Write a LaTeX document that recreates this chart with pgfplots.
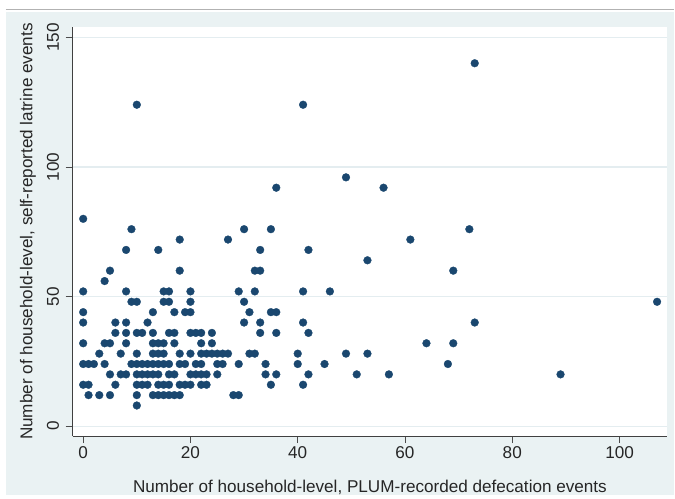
\documentclass[border=0pt]{standalone}
\usepackage{fontspec}
\setmainfont{Liberation Sans}
\usepackage{pgfplots}
\pgfplotsset{compat=1.18}
\definecolor{stbg}{RGB}{234,242,243}
\definecolor{stnavy}{RGB}{26,71,111}
\definecolor{stgrid}{RGB}{228,237,240}
\newcommand\lbl{\fontsize{17.2}{19}\selectfont}

\begin{document}
\begin{tikzpicture}[x=1bp,y=1bp]
% page and graph region
\fill[white] (0,0) rectangle (675,496);
\fill[stbg] (6,0) rectangle (675,484);
\draw[black!30, line width=1.5bp] (6,486.5) -- (675,486.5);
\begin{axis}[
  at={(72.7bp,59.3bp)}, anchor=south west,
  scale only axis, width=595.3bp, height=409.7bp,
  xmin=-1.97, xmax=108.9, ymin=-3.85, ymax=154,
  axis x line*=bottom, axis y line*=left,
  axis line style={black!75, line width=0.8bp},
  axis background/.style={fill=white},
  xtick={0,20,...,100}, ytick={0,50,100,150},
  tick align=outside, major tick length=7bp,
  tick style={black!70, line width=0.8bp},
  ymajorgrids, grid style={stgrid, line width=1.2bp},
  /pgf/number format/assume math mode=true,
  tick label style={font=\lbl, text=black!85},
  yticklabel style={rotate=90, anchor=south},
  yticklabel shift=3bp,
  xlabel={Number of household-level, PLUM-recorded defecation events},
  ylabel={Number of household-level, self-reported latrine events},
  label style={font=\lbl, text=black!85},
  xlabel style={at={(axis description cs:0.5,-0.1252)}, anchor=center},
  ylabel style={at={(axis description cs:-0.0751,0.5)}, anchor=center},
  clip=false,
]
\addplot[only marks, mark=*, mark size=3.9bp,
  mark options={fill=stnavy, draw=stnavy, line width=0.3bp}] table {
X Y
10 8
1 12
3 12
5 12
10 12
13 12
14 12
15 12
16 12
17 12
18 12
28 12
29 12
0 16
1 16
6 16
10 16
11 16
12 16
14 16
15 16
16 16
18 16
19 16
20 16
22 16
23 16
35 16
41 16
5 20
7 20
8 20
10 20
11 20
12 20
13 20
14 20
16 20
17 20
20 20
21 20
22 20
23 20
25 20
34 20
36 20
42 20
51 20
57 20
89 20
0 24
1 24
2 24
4 24
9 24
10 24
11 24
12 24
13 24
14 24
15 24
16 24
18 24
19 24
21 24
22 24
25 24
26 24
29 24
34 24
40 24
45 24
68 24
3 28
7 28
10 28
13 28
14 28
15 28
18 28
20 28
22 28
23 28
24 28
25 28
26 28
27 28
31 28
32 28
40 28
49 28
53 28
0 32
4 32
5 32
8 32
13 32
14 32
15 32
17 32
22 32
24 32
64 32
69 32
6 36
8 36
10 36
11 36
13 36
16 36
17 36
20 36
21 36
22 36
24 36
33 36
36 36
42 36
0 40
6 40
8 40
12 40
30 40
33 40
41 40
73 40
0 44
13 44
17 44
19 44
20 44
31 44
35 44
36 44
9 48
10 48
15 48
16 48
20 48
30 48
107 48
0 52
8 52
15 52
16 52
20 52
29 52
32 52
41 52
46 52
4 56
5 60
18 60
32 60
33 60
69 60
53 64
8 68
14 68
33 68
42 68
18 72
27 72
61 72
9 76
30 76
35 76
72 76
0 80
36 92
56 92
49 96
10 124
41 124
73 140
};
\end{axis}
\end{tikzpicture}
\end{document}
